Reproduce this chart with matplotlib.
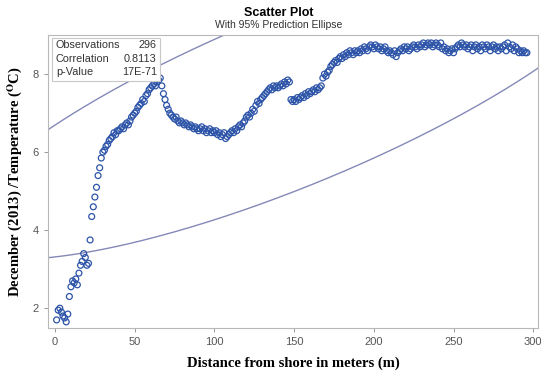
import numpy as np
import matplotlib.pyplot as plt

# distance from shore (m), one reading per metre
distance = list(range(1, 297))

# December (2013) temperature (deg C)
temperature = [
    1.7, 1.95, 2.0, 1.9, 1.8, 1.75, 1.65, 1.85, 2.3,
    2.55, 2.7, 2.65, 2.75, 2.6, 2.9, 3.1, 3.2, 3.4, 3.3,
    3.1, 3.15, 3.75, 4.35, 4.6, 4.85, 5.1, 5.4, 5.6, 5.85,
    6.0, 6.05, 6.15, 6.2, 6.3, 6.35, 6.4, 6.5, 6.45, 6.55,
    6.55, 6.6, 6.65, 6.6, 6.7, 6.75, 6.7, 6.8, 6.9, 6.95,
    7.0, 7.05, 7.15, 7.2, 7.25, 7.35, 7.3, 7.45, 7.5, 7.6,
    7.65, 7.7, 7.75, 7.7, 7.8, 7.85, 7.9, 7.7, 7.5, 7.35,
    7.2, 7.1, 7.0, 6.95, 6.9, 6.85, 6.9, 6.8, 6.75, 6.8,
    6.75, 6.7, 6.75, 6.7, 6.65, 6.7, 6.65, 6.6, 6.65, 6.6,
    6.55, 6.6, 6.65, 6.55, 6.6, 6.5, 6.55, 6.6, 6.5, 6.55,
    6.5, 6.55, 6.45, 6.5, 6.4, 6.45, 6.5, 6.35, 6.4, 6.45,
    6.5, 6.55, 6.5, 6.6, 6.55, 6.65, 6.7, 6.65, 6.75, 6.8,
    6.9, 6.95, 6.9, 7.0, 7.1, 7.05, 7.2, 7.3, 7.25, 7.35,
    7.4, 7.45, 7.5, 7.55, 7.6, 7.65, 7.6, 7.7, 7.65, 7.7,
    7.65, 7.7, 7.75, 7.7, 7.8, 7.75, 7.85, 7.8, 7.35, 7.3,
    7.35, 7.3, 7.4, 7.35, 7.4, 7.45, 7.4, 7.5, 7.45, 7.55,
    7.5, 7.55, 7.6, 7.55, 7.65, 7.6, 7.65, 7.7, 7.9, 8.0,
    7.95, 8.05, 8.1, 8.2, 8.25, 8.3, 8.35, 8.3, 8.4, 8.45,
    8.4, 8.5, 8.45, 8.55, 8.5, 8.6, 8.55, 8.5, 8.6, 8.55,
    8.6, 8.55, 8.65, 8.6, 8.7, 8.65, 8.6, 8.7, 8.75, 8.7,
    8.65, 8.75, 8.7, 8.65, 8.7, 8.6, 8.65, 8.7, 8.6, 8.55,
    8.6, 8.55, 8.5, 8.6, 8.45, 8.55, 8.6, 8.65, 8.6, 8.7,
    8.65, 8.7, 8.6, 8.65, 8.7, 8.75, 8.7, 8.65, 8.75, 8.7,
    8.75, 8.8, 8.7, 8.75, 8.8, 8.75, 8.8, 8.7, 8.75, 8.8,
    8.75, 8.7, 8.8, 8.65, 8.7, 8.6, 8.65, 8.55, 8.6, 8.65,
    8.55, 8.65, 8.7, 8.75, 8.7, 8.8, 8.75, 8.7, 8.75, 8.65,
    8.7, 8.75, 8.6, 8.7, 8.75, 8.65, 8.7, 8.6, 8.75, 8.7,
    8.65, 8.75, 8.7, 8.6, 8.7, 8.75, 8.65, 8.7, 8.6, 8.7,
    8.65, 8.7, 8.75, 8.6, 8.8, 8.7, 8.65, 8.75, 8.6, 8.7,
    8.65, 8.55, 8.6, 8.55, 8.6, 8.55, 8.55,
]

stat_names = ['Observations', 'Correlation', 'p-Value']
stat_values = ['296', '0.8113', '17E-71']

x_ticks = [0, 50, 100, 150, 200, 250, 300]
y_ticks = [2, 4, 6, 8]

F_95 = 3.026  # F(0.95; 2, n-2)

x = np.array(distance, dtype=float)
y = np.array(temperature, dtype=float)
n = len(x)

# 95% prediction ellipse from sample mean / covariance
cov = np.cov(x, y)
c = 2 * (n - 1) * (n + 1) / (n * (n - 2)) * F_95
L = np.linalg.cholesky(cov)
t = np.linspace(0, 2 * np.pi, 600)
circ = np.vstack([np.cos(t), np.sin(t)])
ell = L @ circ * np.sqrt(c)
ex = ell[0] + x.mean()
ey = ell[1] + y.mean()

plt.rcParams['mathtext.fontset'] = 'stix'

fig = plt.figure(figsize=(5.5, 3.78), dpi=100)
ax = fig.add_axes([0.0873, 0.132, 0.891, 0.775])

ax.plot(ex, ey, color='#8489b8', lw=1.0, zorder=1)
ax.scatter(x, y, s=18, facecolors='none', edgecolors='#2d54a8', linewidths=0.9, zorder=2)

ax.set_xlim(-4.4, 303)
ax.set_ylim(1.49, 9.0)
ax.set_xticks(x_ticks)
ax.set_yticks(y_ticks)
for s in ax.spines.values():
    s.set_color('#b8b8b8')
    s.set_linewidth(0.8)
ax.tick_params(colors='#888888', labelcolor='#555555', labelsize=8, length=3, width=0.6)
for lab in ax.get_xticklabels() + ax.get_yticklabels():
    lab.set_family('Liberation Sans')

ax.set_xlabel('Distance from shore in meters (m)', family='Liberation Serif',
              fontweight='bold', fontsize=10.5, labelpad=7)
ax.set_ylabel(r'December (2013) /Temperature ($\mathbf{^{O}}$C)', family='Liberation Serif',
              fontweight='bold', fontsize=10.5, labelpad=6)

fig.text(0.507, 0.966, 'Scatter Plot', ha='center', va='center', family='Liberation Sans',
         fontweight='bold', fontsize=9)
fig.text(0.507, 0.935, 'With 95% Prediction Ellipse', ha='center', va='center',
         family='Liberation Sans', fontsize=7.5, color='#333333')

# statistics inset
box = plt.Rectangle((0.008, 0.845), 0.22, 0.145, transform=ax.transAxes, facecolor='white',
                    edgecolor='#c8c8c8', lw=0.8, zorder=3)
ax.add_patch(box)
for i, (nm, val) in enumerate(zip(stat_names, stat_values)):
    yy = 0.965 - i * 0.045
    ax.text(0.016, yy, nm, transform=ax.transAxes, ha='left', va='center', fontsize=7.8,
            family='Liberation Sans', color='#333333', zorder=4)
    ax.text(0.222, yy, val, transform=ax.transAxes, ha='right', va='center', fontsize=7.8,
            family='Liberation Sans', color='#333333', zorder=4)

fig.savefig('out.png', dpi=100)
